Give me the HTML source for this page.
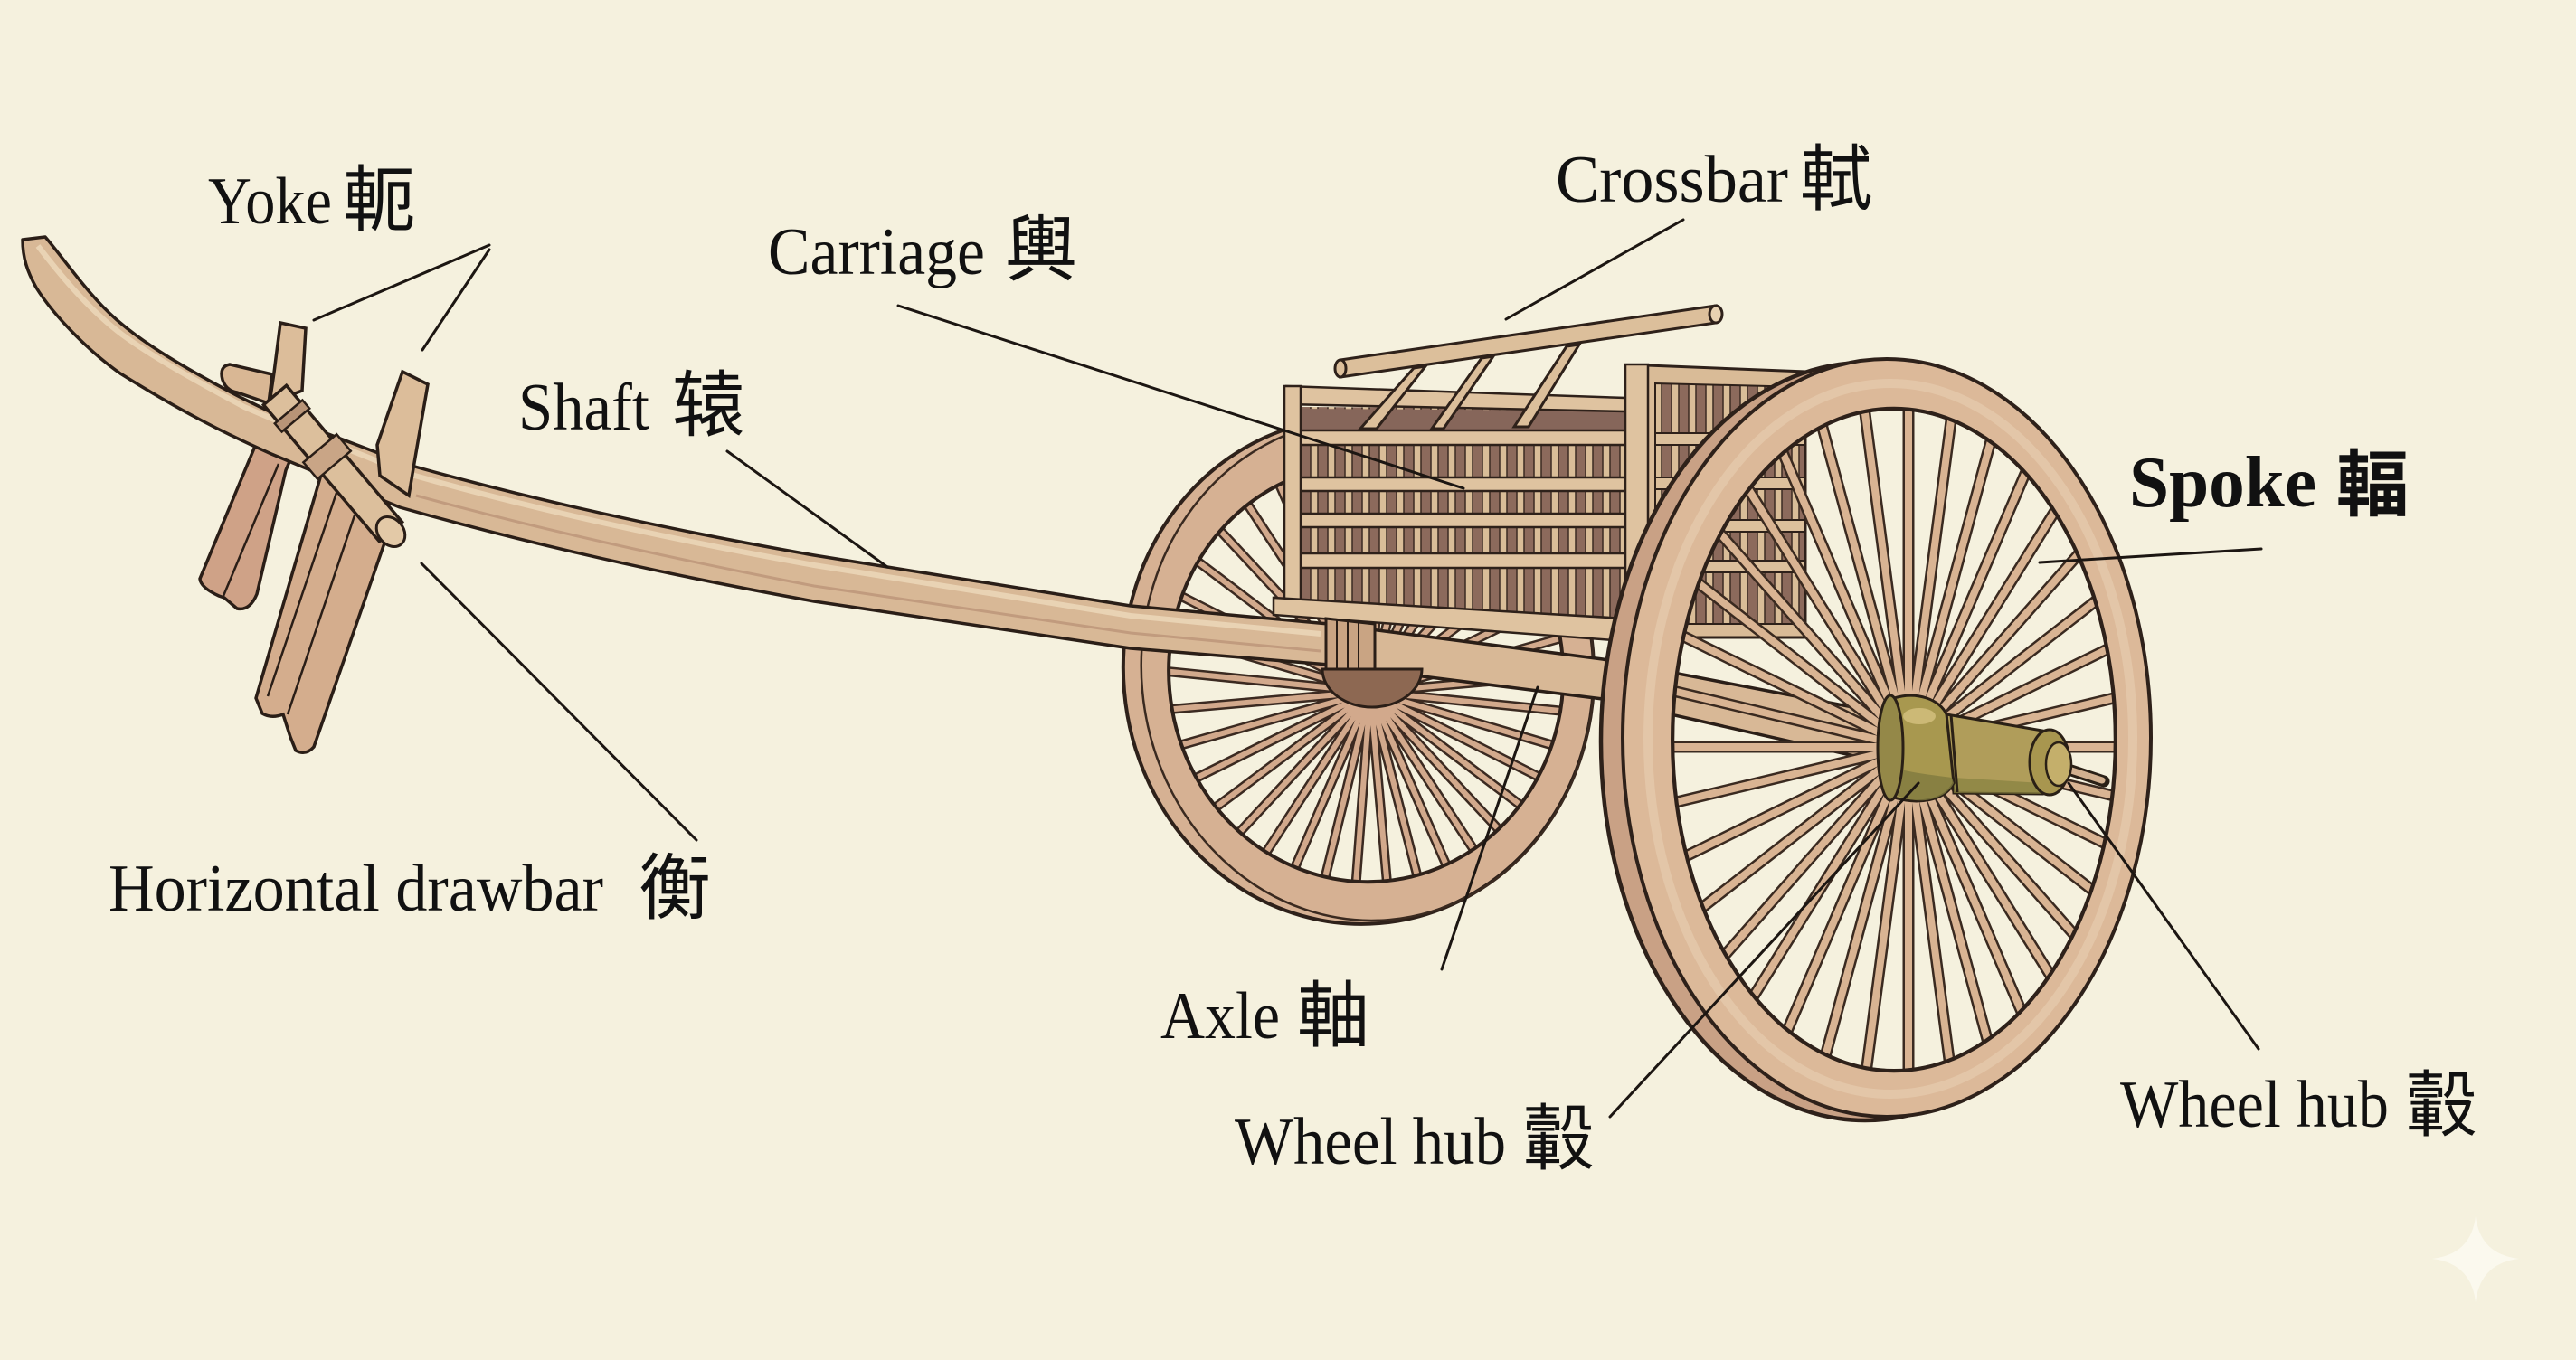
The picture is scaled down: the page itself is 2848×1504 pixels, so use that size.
<!DOCTYPE html>
<html><head><meta charset="utf-8"><style>html,body{margin:0;padding:0;background:#f5f1de;}svg{display:block;}</style></head>
<body>
<svg xmlns="http://www.w3.org/2000/svg" width="2848" height="1504" viewBox="0 0 2848 1504">
<defs>
<clipPath id="cF"><ellipse cx="2094" cy="818" rx="245" ry="366"/></clipPath>
<clipPath id="cB"><ellipse transform="rotate(-5 1502 742)" cx="1510" cy="745" rx="218" ry="231"/></clipPath>
<pattern id="slats" width="19" height="60" patternUnits="userSpaceOnUse">
<rect width="19" height="60" fill="#8c6a5c"/>
<rect x="5" y="-2" width="8" height="64" fill="#d9bd98" stroke="#3b2a22" stroke-width="1.5"/>
</pattern>
<path id="spk" vector-effect="non-scaling-stroke" fill="none" d="M0 0L0 -600M0 0L104 -591M0 0L205 -564M0 0L300 -520M0 0L386 -460M0 0L460 -386M0 0L520 -300M0 0L564 -205M0 0L591 -104M0 0L600 0M0 0L591 104M0 0L564 205M0 0L520 300M0 0L460 386M0 0L386 460M0 0L300 520M0 0L205 564M0 0L104 591M0 0L0 600M0 0L-104 591M0 0L-205 564M0 0L-300 520M0 0L-386 460M0 0L-460 386M0 0L-520 300M0 0L-564 205M0 0L-591 104M0 0L-600 0M0 0L-591 -104M0 0L-564 -205M0 0L-520 -300M0 0L-460 -386M0 0L-386 -460M0 0L-300 -520M0 0L-205 -564M0 0L-104 -591"/>
</defs>

<rect width="2848" height="1504" fill="#f5f1de"/>

<!-- BACK WHEEL -->
<g clip-path="url(#cB)">
<g transform="translate(1515 765) rotate(-5) scale(0.93 1)">
<use href="#spk" stroke="#3b2a21" stroke-width="11"/>
<use href="#spk" stroke="#d2a98c" stroke-width="6"/>
</g>
</g>
<g transform="rotate(-5 1502 742)">
<path fill-rule="evenodd" fill="#d6b193" stroke="#2e211a" stroke-width="4" d="M1242,742 a260,280 0 1,0 520,0 a260,280 0 1,0 -520,0Z M1292,745 a218,231 0 1,0 436,0 a218,231 0 1,0 -436,0Z"/>
<ellipse cx="1512" cy="742" rx="250" ry="277" fill="none" stroke="#3a2a20" stroke-width="2.5"/>
</g>

<!-- SIDE PANEL -->
<polygon points="1821,404 1996,411 1996,705 1821,705" fill="#d9bb97" stroke="#2e211a" stroke-width="3"/>
<polygon points="1830,424 1996,428 1996,690 1830,690" fill="url(#slats)" stroke="#2e211a" stroke-width="2"/>
<g fill="#dcc09c" stroke="#2e211a" stroke-width="2">
<rect x="1830" y="479" width="166" height="13"/>
<rect x="1830" y="528" width="166" height="13"/>
<rect x="1830" y="575" width="166" height="13"/>
<rect x="1830" y="620" width="166" height="13"/>
</g>

<!-- FRONT PANEL -->
<polygon points="1437,450 1797,452 1797,690 1437,668" fill="url(#slats)"/>
<polygon points="1437,452 1797,454 1797,476 1437,476" fill="#86665a"/>
<g fill="#dfc3a0" stroke="#2e211a" stroke-width="2.5">
<polygon points="1422,427 1797,440 1797,455 1422,447"/>
<rect x="1437" y="476" width="360" height="16"/>
<rect x="1437" y="528" width="360" height="15"/>
<rect x="1437" y="568" width="360" height="15"/>
<rect x="1437" y="612" width="360" height="16"/>
<polygon points="1420,427 1438,427 1438,668 1420,668"/>
<polygon points="1408,661 1797,684 1797,709 1408,680"/>
<polygon points="1797,403 1822,403 1822,705 1797,705"/>
</g>

<!-- CROSSBAR -->
<g fill="#dcbf9b" stroke="#2e211a" stroke-width="3">
<polygon points="1563,407 1576,405 1522,474 1504,474"/>
<polygon points="1638,396 1651,394 1596,474 1583,474"/>
<polygon points="1732,383 1746,381 1690,472 1674,472"/>
<polygon points="1482,398 1897,338 1897,357 1482,417"/>
<ellipse cx="1482" cy="407.5" rx="6" ry="9.5"/>
<ellipse cx="1897" cy="347.5" rx="7" ry="9.5" fill="#e8d2b2"/>
</g>

<!-- YOKE back fork legs -->
<path d="M295,462 L333,480 L316,520 L284,657 Q276,676 262,673 L248,661 L242,659 Q222,650 221,640 Z" fill="#cfa287" stroke="#2a1e17" stroke-width="3.5"/>
<path d="M308,513 L247,659" stroke="#2a1e17" stroke-width="2.5" fill="none"/>

<!-- SHAFT -->
<path d="M25,265 L50,262 C70,285 100,330 133,357 C160,380 200,405 267,440 L300,456 L455,515 Q650,570 900,614 L1250,670 L1469,690 L1772,729 L2090,790 L2090,845 L1772,773 L1469,735 L1250,717 L900,665 Q650,620 442,561 L300,502 C250,480 200,455 133,413 C100,390 60,350 40,318 C30,300 25,285 25,265 Z" fill="#d8b896" stroke="#2a1e17" stroke-width="3.5" stroke-linejoin="round"/>
<path d="M42,272 C62,298 95,340 135,370 C165,392 205,415 270,450 L310,467 L455,525 Q650,580 900,625 L1250,681 L1460,701" fill="none" stroke="#eedabc" stroke-width="6" opacity="0.8"/>
<path d="M460,548 Q650,600 900,648 L1250,700 L1460,720" fill="none" stroke="#b88f74" stroke-width="3" opacity="0.7"/>
<!-- binding -->
<polygon points="1466,684 1520,690 1520,745 1466,740" fill="#c9a483" stroke="#2a1e17" stroke-width="3"/>
<g stroke="#2a1e17" stroke-width="2"><line x1="1478" y1="686" x2="1478" y2="741"/><line x1="1490" y1="687" x2="1490" y2="742"/><line x1="1502" y1="688" x2="1502" y2="743"/></g>
<path d="M1462,740 A55,42 0 0 0 1572,740 Z" fill="#8d6852" stroke="#2a1e17" stroke-width="3"/>

<!-- YOKE back fork post -->
<path d="M310,357 L338,363 L334,432 L298,446 L303,412 Z" fill="#dcbd9a" stroke="#2a1e17" stroke-width="3.5"/>
<path d="M301,414 L254,403 Q242,405 246,420 Q250,432 262,434 L297,446 Z" fill="#d9b794" stroke="#2a1e17" stroke-width="3.5"/>
<!-- front fork post -->
<path d="M445,411 L473,425 L458,512 L452,548 L420,526 L417,492 Z" fill="#dcbd9a" stroke="#2a1e17" stroke-width="3.5"/>
<!-- front fork legs -->
<path d="M357,518 L428,592 L347,826 Q338,836 327,830 L321,815 L313,790 Q300,795 290,789 L283,772 Z" fill="#d4ad8d" stroke="#2a1e17" stroke-width="3.5"/>
<path d="M392,570 L318,790 M372,545 L296,770" stroke="#2a1e17" stroke-width="2.5" fill="none"/>
<!-- drawbar rod -->
<polygon points="316.6,426.3 444.6,577.3 419.4,598.7 291.4,447.7" fill="#dcbf9c" stroke="#2a1e17" stroke-width="3.5"/>
<polygon points="334.4,442.5 342.2,451.7 311.6,477.5 303.8,468.3" fill="#b89477" stroke="#2a1e17" stroke-width="2.5"/>
<polygon points="372.2,480.3 387.8,498.7 351,529.7 335.4,511.3" fill="#c9a586" stroke="#2a1e17" stroke-width="2.5"/>
<ellipse cx="432" cy="588" rx="14" ry="18" transform="rotate(-40 432 588)" fill="#e3c9a7" stroke="#2a1e17" stroke-width="3"/>

<!-- FRONT WHEEL spokes -->
<g clip-path="url(#cF)">
<g transform="translate(2110 826) scale(0.74 1)">
<use href="#spk" stroke="#3a2a20" stroke-width="13"/>
<use href="#spk" stroke="#d9b493" stroke-width="8"/>
</g>
</g>
<!-- FRONT WHEEL tread (left depth) -->
<path fill-rule="evenodd" fill="#c9a185" stroke="#2e211a" stroke-width="4.5" d="M1770,820 a292,419 0 1,0 584,0 a292,419 0 1,0 -584,0Z M1849,818 a245,366 0 1,0 490,0 a245,366 0 1,0 -490,0Z"/>
<!-- FRONT WHEEL face rim -->
<path fill-rule="evenodd" fill="#dcb999" stroke="#2e211a" stroke-width="4" d="M1794,816 a292,419 0 1,0 584,0 a292,419 0 1,0 -584,0Z M1849,818 a245,366 0 1,0 490,0 a245,366 0 1,0 -490,0Z"/>
<ellipse cx="2090" cy="817" rx="268" ry="393" fill="none" stroke="#ead2b4" stroke-width="10" opacity="0.55"/>

<!-- HUB -->
<path d="M2152,790 L2258,808 L2258,878 L2160,877 Z" fill="#b09d5a" stroke="#2a2016" stroke-width="3"/>
<path d="M2160,860 L2258,866 L2258,878 L2160,877 Z" fill="#86803f" opacity="0.7"/>
<path d="M2094,772 C2120,764 2145,774 2152,790 L2160,866 C2150,886 2120,890 2094,882 Z" fill="#a8984f" stroke="#2a2016" stroke-width="3"/>
<path d="M2098,850 C2120,856 2145,858 2158,860 L2160,866 C2150,886 2120,890 2098,880 Z" fill="#7f7b3f" opacity="0.8"/>
<ellipse cx="2122" cy="792" rx="18" ry="9" fill="#d4c27f" opacity="0.8"/>
<ellipse cx="2090" cy="827" rx="14" ry="58" fill="#948848" stroke="#2a2016" stroke-width="3"/>
<line x1="2157" y1="790" x2="2164" y2="876" stroke="#2a2016" stroke-width="3"/>
<line x1="2290" y1="852" x2="2326" y2="864" stroke="#2a2016" stroke-width="13" stroke-linecap="round"/>
<line x1="2290" y1="852" x2="2324" y2="863" stroke="#d2b08f" stroke-width="7" stroke-linecap="round"/>
<ellipse cx="2266" cy="843" rx="22" ry="36" fill="#a8964f" stroke="#2a2016" stroke-width="3"/>
<ellipse cx="2276" cy="845" rx="14" ry="24" fill="#c4af6b" stroke="#2a2016" stroke-width="2.5"/>

<!-- LEADER LINES -->
<g stroke="#1c1612" stroke-width="3" stroke-linecap="round">
<line x1="541" y1="271" x2="347" y2="354"/>
<line x1="541" y1="276" x2="467" y2="387"/>
<line x1="804" y1="499" x2="981" y2="627"/>
<line x1="466" y1="623" x2="770" y2="929"/>
<line x1="993" y1="338" x2="1618" y2="540"/>
<line x1="1861" y1="243" x2="1665" y2="353"/>
<line x1="2500" y1="607" x2="2255" y2="622"/>
<line x1="1594" y1="1072" x2="1700" y2="760"/>
<line x1="1780" y1="1235" x2="2121" y2="866"/>
<line x1="2497" y1="1160" x2="2287" y2="866"/>
</g>

<!-- LABELS -->
<g font-family="'Liberation Serif', serif" font-size="74" fill="#111">
<text x="230" y="247" textLength="137" lengthAdjust="spacingAndGlyphs">Yoke</text>
<text x="849" y="303" textLength="240" lengthAdjust="spacingAndGlyphs">Carriage</text>
<text x="1720" y="223" textLength="257" lengthAdjust="spacingAndGlyphs">Crossbar</text>
<text x="573" y="475" textLength="145" lengthAdjust="spacingAndGlyphs">Shaft</text>
<text x="2354" y="560" font-size="80" font-weight="bold" textLength="207" lengthAdjust="spacingAndGlyphs">Spoke</text>
<text x="120" y="1007" textLength="547" lengthAdjust="spacingAndGlyphs">Horizontal drawbar</text>
<text x="1283" y="1148" textLength="132" lengthAdjust="spacingAndGlyphs">Axle</text>
<text x="1365" y="1287" textLength="300" lengthAdjust="spacingAndGlyphs">Wheel hub</text>
<text x="2344" y="1246" textLength="297" lengthAdjust="spacingAndGlyphs">Wheel hub</text>
</g>
<g font-family="'Noto Sans CJK TC','Noto Sans CJK SC',sans-serif" font-size="80" fill="#111">
<text x="379" y="249">軛</text>
<text x="1111" y="304">輿</text>
<text x="1990" y="226">軾</text>
<text x="743" y="476">辕</text>
<text x="2583" y="564" font-weight="bold">輻</text>
<text x="706" y="1010">衡</text>
<text x="1434" y="1151">軸</text>
<text x="1683" y="1287">轂</text>
<text x="2659" y="1250">轂</text>
</g>

<!-- sparkle -->
<path d="M2737,1345 Q2742,1387 2785,1392 Q2742,1397 2737,1440 Q2732,1397 2689,1392 Q2732,1387 2737,1345Z" fill="#fbf9ee"/>
</svg>
</body></html>
